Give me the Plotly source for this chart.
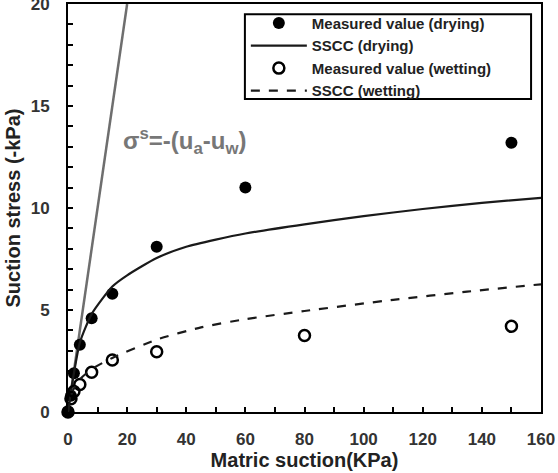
import plotly.graph_objects as go

# Measured data
dry_x = [0, 1, 2, 4, 8, 15, 30, 60, 150]
dry_y = [0, 0.8, 1.9, 3.3, 4.6, 5.8, 8.1, 11.0, 13.2]
wet_x = [0, 1, 2, 4, 8, 15, 30, 80, 150]
wet_y = [0, 0.65, 1.0, 1.35, 1.95, 2.55, 2.95, 3.75, 4.2]

# SSCC curves
sscc_dry_x = [0, 1, 2, 4, 8, 15, 20, 30, 40, 50, 60, 80, 100, 120, 140, 160]
sscc_dry_y = [0, 1.0, 1.9, 3.4, 4.8, 6.15, 6.7, 7.55, 8.1, 8.45, 8.75, 9.2, 9.6, 9.95, 10.25, 10.5]
sscc_wet_x = [0, 1, 2, 4, 8, 15, 30, 45, 60, 80, 110, 135, 160]
sscc_wet_y = [0, 0.8, 1.15, 1.6, 2.1, 2.65, 3.55, 4.15, 4.55, 4.95, 5.5, 5.9, 6.26]

# 1:1 line sigma_s = -(ua-uw)
line11_x = [0, 20]
line11_y = [0, 20]

FONT = "Liberation Sans, Arial, sans-serif"

fig = go.Figure()
fig.add_trace(go.Scatter(x=line11_x, y=line11_y, mode="lines",
                         line=dict(color="#6e6e6e", width=2.5), showlegend=False))
fig.add_trace(go.Scatter(x=dry_x, y=dry_y, mode="markers", name="Measured value (drying)",
                         marker=dict(symbol="circle", size=12, color="black"), cliponaxis=False))
fig.add_trace(go.Scatter(x=sscc_dry_x, y=sscc_dry_y, mode="lines", name="SSCC (drying)",
                         line=dict(color="#1a1a1a", width=2.2, shape="spline", smoothing=0.6)))
fig.add_trace(go.Scatter(x=wet_x, y=wet_y, mode="markers", name="Measured value (wetting)",
                         marker=dict(symbol="circle-open", size=11, color="black",
                                     line=dict(width=2.5, color="black")), cliponaxis=False))
fig.add_trace(go.Scatter(x=sscc_wet_x, y=sscc_wet_y, mode="lines", name="SSCC (wetting)",
                         line=dict(color="#1a1a1a", width=2.2, dash="dash", shape="spline", smoothing=0.6)))

fig.add_annotation(x=39.7, y=13.3, xref="x", yref="y", showarrow=False,
                   text="σ<sup>s</sup>=-(u<sub>a</sub>-u<sub>w</sub>)",
                   font=dict(family=FONT, size=24, color="#777777", weight="bold"))

# legend frame
fig.add_shape(type="rect", xref="paper", yref="paper", x0=0.374, x1=0.979, y0=0.767, y1=0.975,
              line=dict(color="black", width=2), fillcolor="rgba(0,0,0,0)", layer="above")

fig.update_layout(
    width=558, height=473,
    margin=dict(l=68, r=17, t=4, b=61),
    paper_bgcolor="white", plot_bgcolor="white",
    font=dict(family=FONT, color="#222"),
    legend=dict(x=0.376, y=0.993, xanchor="left", yanchor="top",
                borderwidth=0, bgcolor="rgba(0,0,0,0)",
                font=dict(family=FONT, size=15, color="#222", weight="bold"),
                tracegroupgap=0, itemwidth=56),
    xaxis=dict(range=[0, 160], dtick=20, tick0=0, ticks="inside", ticklen=5, tickwidth=1.5,
               tickcolor="black", showline=True, linecolor="black", linewidth=2, mirror=True,
               showgrid=False, zeroline=False, ticklabelstandoff=11, ticklabeloverflow="allow",
               automargin=False,
               minor=dict(dtick=10, ticks="inside", ticklen=5, tickwidth=1.5, tickcolor="black"),
               tickfont=dict(family=FONT, size=17, color="#333", weight="bold"),
               title=dict(text="Matric suction(KPa)", standoff=4,
                          font=dict(family=FONT, size=20, color="#222", weight="bold"))),
    yaxis=dict(range=[0, 20], dtick=5, tick0=0, ticks="inside", ticklen=5, tickwidth=1.5,
               tickcolor="black", showline=True, linecolor="black", linewidth=2, mirror=True,
               showgrid=False, zeroline=False, ticklabelstandoff=13, ticklabeloverflow="allow",
               automargin=False,
               minor=dict(dtick=1, ticks="inside", ticklen=5, tickwidth=1.5, tickcolor="black"),
               tickfont=dict(family=FONT, size=17, color="#333", weight="bold"),
               title=dict(text="Suction stress (-kPa)", standoff=5,
                          font=dict(family=FONT, size=20, color="#222", weight="bold"))),
)

fig.write_html("out.html")
